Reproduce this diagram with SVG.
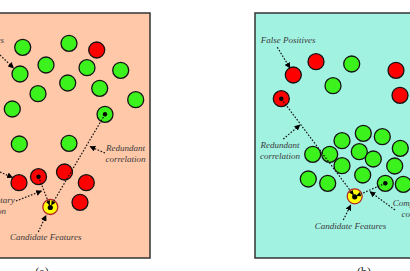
<svg xmlns="http://www.w3.org/2000/svg" width="410" height="271" viewBox="0 0 410 271">
<style>
.g{fill:#3cf21c;stroke:#141414;stroke-width:1.3}
.r{fill:#ff0000;stroke:#141414;stroke-width:1.3}
.y{fill:#ffff00;stroke:#b02828;stroke-width:1.3}
.d{fill:#000}
.c{fill:none;stroke:#141414;stroke-width:1.2;stroke-dasharray:1.6 1.6}
.t{font-family:"Liberation Serif","Times New Roman",serif;font-style:italic;font-size:9px;fill:#3a3a3a}
.cap{font-family:"Liberation Serif","Times New Roman",serif;font-size:12px;fill:#222}
.panel{stroke:#333;stroke-width:1.5}
</style>
<defs>
<marker id="ah" viewBox="0 0 10 10" refX="9" refY="5" markerWidth="6" markerHeight="6" markerUnits="userSpaceOnUse" orient="auto">
<path d="M0,0 L10,5 L0,10 z" fill="#000"/>
</marker>
<marker id="sh" viewBox="0 0 10 10" refX="10" refY="5" markerWidth="4.5" markerHeight="4.5" markerUnits="userSpaceOnUse" orient="auto">
<path d="M0,0 L10,5 L0,10 z" fill="#000"/>
</marker>
</defs>
<rect width="410" height="271" fill="#fff"/>
<g id="panel-a">
<rect class="panel" x="-5" y="13" width="155" height="245" fill="#ffc8a8"/>
</g>
<g id="panel-b">
<rect class="panel" x="255" y="13" width="165" height="245" fill="#a2f2e2"/>
</g>
<g id="nodes-a">
<g id="a-g1"><circle class="g" cx="22.7" cy="47.3" r="8"/></g>
<g id="a-g2"><circle class="g" cx="69" cy="43.3" r="8"/></g>
<g id="a-g3"><circle class="g" cx="20" cy="74" r="8"/></g>
<g id="a-g4"><circle class="g" cx="46" cy="65" r="8"/></g>
<g id="a-g5"><circle class="g" cx="87" cy="67.7" r="8"/></g>
<g id="a-g6"><circle class="g" cx="120.7" cy="70.3" r="8"/></g>
<g id="a-g7"><circle class="g" cx="67.7" cy="83" r="8"/></g>
<g id="a-g8"><circle class="g" cx="38" cy="93.7" r="8"/></g>
<g id="a-g9"><circle class="g" cx="99.7" cy="88.3" r="8"/></g>
<g id="a-g10"><circle class="g" cx="135.7" cy="99.7" r="8"/></g>
<g id="a-g11"><circle class="g" cx="12.3" cy="109" r="8"/></g>
<g id="a-g12"><circle class="g" cx="19.3" cy="144" r="8"/></g>
<g id="a-g13"><circle class="g" cx="69" cy="143.3" r="8"/></g>
<g id="a-gd"><circle class="g" cx="105" cy="114.3" r="8"/><circle class="d" cx="105" cy="114.3" r="2.2"/></g>
<g id="a-r1"><circle class="r" cx="96.7" cy="50" r="8"/></g>
<g id="a-r2"><circle class="r" cx="19" cy="182.7" r="8"/></g>
<g id="a-r3"><circle class="r" cx="64.5" cy="172" r="8"/></g>
<g id="a-r4"><circle class="r" cx="86.3" cy="182.7" r="8"/></g>
<g id="a-r5"><circle class="r" cx="80" cy="202.3" r="8"/></g>
<g id="a-rd"><circle class="r" cx="38.5" cy="176.7" r="8"/><circle class="d" cx="38.5" cy="176.7" r="2.2"/></g>
<g id="a-y"><circle class="y" cx="50.3" cy="207" r="7.5"/><circle class="d" cx="50.3" cy="207.5" r="2.6"/></g>
</g>
<g id="nodes-b">
<g id="b-g1"><circle class="g" cx="351.7" cy="64" r="8"/></g>
<g id="b-g2"><circle class="g" cx="333" cy="85.7" r="8"/></g>
<g id="b-g3"><circle class="g" cx="342" cy="140.7" r="8"/></g>
<g id="b-g4"><circle class="g" cx="363.3" cy="133.3" r="8"/></g>
<g id="b-g5"><circle class="g" cx="382.3" cy="136.7" r="8"/></g>
<g id="b-g6"><circle class="g" cx="400.3" cy="148.3" r="8"/></g>
<g id="b-g7"><circle class="g" cx="312.7" cy="154.3" r="8"/></g>
<g id="b-g8"><circle class="g" cx="329.7" cy="154.3" r="8"/></g>
<g id="b-g9"><circle class="g" cx="359.3" cy="151.7" r="8"/></g>
<g id="b-g10"><circle class="g" cx="373.3" cy="159" r="8"/></g>
<g id="b-g11"><circle class="g" cx="342" cy="165.7" r="8"/></g>
<g id="b-g12"><circle class="g" cx="394.7" cy="166" r="8"/></g>
<g id="b-g13"><circle class="g" cx="308.3" cy="179" r="8"/></g>
<g id="b-g14"><circle class="g" cx="327.7" cy="183.3" r="8"/></g>
<g id="b-g15"><circle class="g" cx="362.7" cy="175" r="8"/></g>
<g id="b-g16"><circle class="g" cx="403.3" cy="184.3" r="8"/></g>
<g id="b-gd"><circle class="g" cx="385.3" cy="183.3" r="8"/><circle class="d" cx="385.3" cy="183.3" r="2.2"/></g>
<g id="b-r1"><circle class="r" cx="293.3" cy="75" r="8"/></g>
<g id="b-r2"><circle class="r" cx="316" cy="61.7" r="8"/></g>
<g id="b-r3"><circle class="r" cx="396" cy="70.3" r="8"/></g>
<g id="b-r4"><circle class="r" cx="400" cy="95.3" r="8"/></g>
<g id="b-rd"><circle class="r" cx="281.3" cy="98.7" r="8"/><circle class="d" cx="281.3" cy="98.7" r="2.2"/></g>
<g id="b-y"><circle class="y" cx="354.7" cy="196.3" r="7.5"/><circle class="d" cx="354.7" cy="196.8" r="2.6"/></g>
</g>
<g id="connectors">
<path class="c" d="M0,55 L13.5,68" marker-end="url(#ah)"/>
<path class="c" d="M0,172 L12.5,177.5" marker-end="url(#ah)"/>
<path class="c" d="M16,201 L41.5,191" marker-end="url(#ah)"/>
<path class="c" d="M105,153 L90,146.5" marker-end="url(#ah)"/>
<path class="c" d="M38.3,232 L46,215.5" marker-end="url(#ah)"/>
<path class="c" d="M38.5,176.7 L49.6,205.2" marker-end="url(#sh)"/>
<path class="c" d="M105,114.3 L51.3,205.4" marker-end="url(#sh)"/>
<path class="c" d="M277.3,47.3 L290,68" marker-end="url(#ah)"/>
<path class="c" d="M283.3,139 L300,125" marker-end="url(#ah)"/>
<path class="c" d="M343.3,220 L350.7,205" marker-end="url(#ah)"/>
<path class="c" d="M395,210 L370,191.7" marker-end="url(#ah)"/>
<path class="c" d="M281.3,98.7 L353.6,195" marker-end="url(#sh)"/>
<path class="c" d="M385.3,183.3 L356.3,195.9" marker-end="url(#sh)"/>
</g>
<g id="labels">
<text class="t" x="4" y="43" text-anchor="end">False Negatives</text>
<text class="t" x="-14" y="203" text-anchor="middle">Complementary</text>
<text class="t" x="-14" y="213.5" text-anchor="middle">correlation</text>
<text class="t" x="125.5" y="151" text-anchor="middle">Redundant</text>
<text class="t" x="125.5" y="162" text-anchor="middle">correlation</text>
<text class="t" x="45.8" y="240" text-anchor="middle">Candidate Features</text>
<text class="t" x="260.7" y="43">False Positives</text>
<text class="t" x="280" y="148" text-anchor="middle">Redundant</text>
<text class="t" x="280" y="158.5" text-anchor="middle">correlation</text>
<text class="t" x="350.5" y="228.5" text-anchor="middle">Candidate Features</text>
<text class="t" x="421.5" y="206" text-anchor="middle">Complementary</text>
<text class="t" x="421.5" y="217" text-anchor="middle">correlation</text>
<text class="cap" x="42" y="276" text-anchor="middle">(a)</text>
<text class="cap" x="364" y="276" text-anchor="middle">(b)</text>
</g>
</svg>
